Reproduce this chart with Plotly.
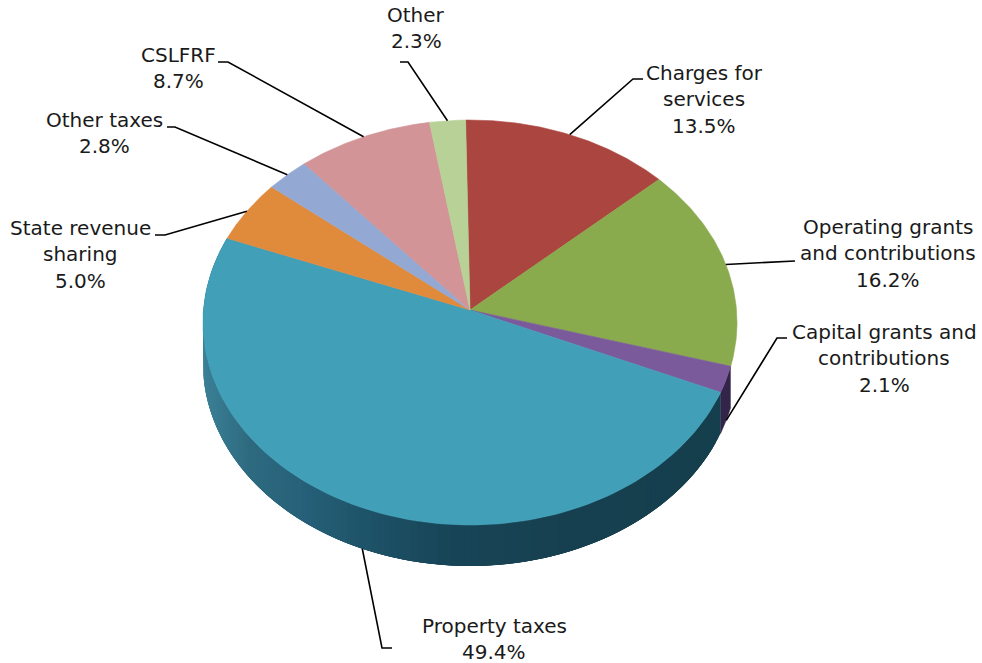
import numpy as np
import plotly.graph_objects as go

# ---- data ----
categories = ["Charges for services", "Operating grants and contributions",
              "Capital grants and contributions", "Property taxes",
              "State revenue sharing", "Other taxes", "CSLFRF", "Other"]
shares = [13.5, 16.2, 2.1, 49.4, 5.0, 2.8, 8.7, 2.3]
label_lines = [["Charges for", "services", "13.5%"],
               ["Operating grants", "and contributions", "16.2%"],
               ["Capital grants and", "contributions", "2.1%"],
               ["Property taxes", "49.4%"],
               ["State revenue", "sharing", "5.0%"],
               ["Other taxes", "2.8%"],
               ["CSLFRF", "8.7%"],
               ["Other", "2.3%"]]

# ---- style / layout ----
top_colors = ["#ab4540", "#8aaa4e", "#7a5a9a", "#429fb8",
              "#e08a3c", "#93a9d3", "#d29496", "#b7d196"]
label_x = [704, 888, 884, 494, 80, 104, 178, 416]
label_y = [73, 227, 332, 626, 228, 120, 55, 15]
line_gap = 26.3
leader_end = [(643, 79), (795, 261), (787, 338), (392, 648),
              (155, 235), (167, 127), (218, 62), (400, 62)]
leader_elbow = [(633, 79), None, (777, 338), (382, 648),
                (165, 235), (175, 127), (228, 62), (408, 62)]
leader_on_wall = [False, False, True, True, False, False, False, False]
CX, CY, A, B, P = 470.0, 310.0, 266.5, 201.7, 0.0617
DEPTH = 41.0
START_DEG = -1.0
FONT = "DejaVu Sans"
FONT_SIZE = 20


def project(deg):
    t = np.radians(deg)
    u, v = np.sin(t), np.cos(t)
    w = 1 + P * v
    return CX + A * u / w, CY - B * v / w


def wall_color(x):
    xs = [205, 250, 300, 370, 450, 560, 735]
    rs = [0x3b, 0x2e, 0x27, 0x1e, 0x18, 0x17, 0x15]
    gs = [0x80, 0x6b, 0x61, 0x53, 0x45, 0x41, 0x3f]
    bs = [0x97, 0x80, 0x7a, 0x68, 0x58, 0x50, 0x4d]
    return "rgb(%d,%d,%d)" % (np.interp(x, xs, rs), np.interp(x, xs, gs), np.interp(x, xs, bs))


fig = go.Figure()
edges = START_DEG + np.cumsum([0] + shares) * 3.6


def poly(xs, ys, color, lw=0.6):
    fig.add_trace(go.Scatter(x=xs, y=ys, mode="lines", fill="toself", fillcolor=color,
                             line=dict(color=color, width=lw), hoverinfo="skip", showlegend=False))


# side wall: Capital slice
a = np.linspace(edges[2], edges[3], 20)
x, y = project(a)
poly(np.r_[x, x[::-1]], np.r_[y, y[::-1] + DEPTH], "#33254a")

# side wall: Property slice, painted in overlapping bands so no seams show
angles = np.linspace(edges[3], edges[4], 130)
step = angles[1] - angles[0]
for a0 in angles[:-1]:
    seg = np.linspace(a0, min(a0 + 4 * step, edges[4]), 6)
    x, y = project(seg)
    poly(np.r_[x, x[::-1]], np.r_[y, y[::-1] + DEPTH], wall_color(x[:2].mean()), lw=0)

# top face
for i, c in enumerate(top_colors):
    x, y = project(np.linspace(edges[i], edges[i + 1], 120))
    poly(np.r_[CX, x, CX], np.r_[CY, y, CY], c)

# leaders
for i in range(len(shares)):
    mx, my = project((edges[i] + edges[i + 1]) / 2)
    if leader_on_wall[i]:
        my += DEPTH
    pts = [(mx, my)] + ([leader_elbow[i]] if leader_elbow[i] else []) + [leader_end[i]]
    fig.add_trace(go.Scatter(x=[p[0] for p in pts], y=[p[1] for p in pts], mode="lines",
                             line=dict(color="black", width=1.6), hoverinfo="skip", showlegend=False))

# labels
annotations = []
for i, lines in enumerate(label_lines):
    for j, txt in enumerate(lines):
        annotations.append(dict(x=label_x[i], y=label_y[i] + j * line_gap, text=txt,
                                showarrow=False, xanchor="center", yanchor="middle",
                                font=dict(family=FONT, size=FONT_SIZE, color="#1a1a1a")))

fig.update_layout(
    width=982, height=663, margin=dict(l=0, r=0, t=0, b=0),
    paper_bgcolor="white", plot_bgcolor="white", showlegend=False,
    xaxis=dict(range=[0, 982], visible=False, fixedrange=True),
    yaxis=dict(range=[663, 0], visible=False, fixedrange=True),
    annotations=annotations,
)
fig.write_html("out.html", config={"displayModeBar": False},
               post_script="document.body.style.margin='0';document.documentElement.style.overflow='hidden';")
